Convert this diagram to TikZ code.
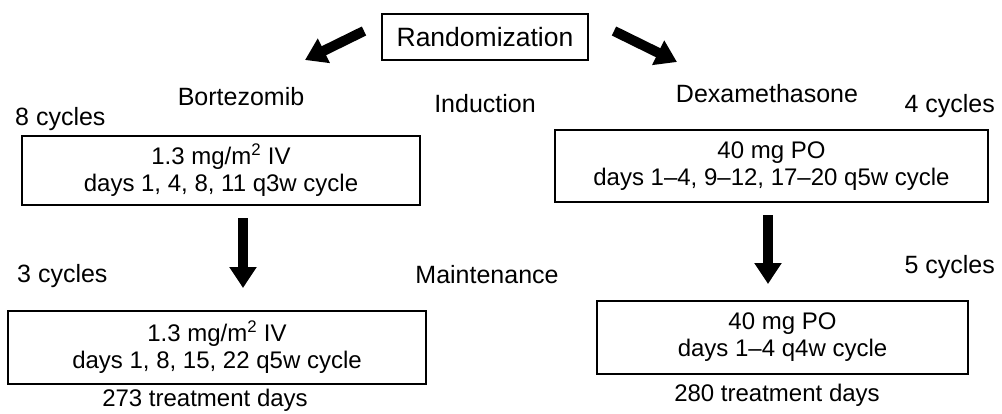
\documentclass[tikz,border=0pt]{standalone}
\usepackage{fontspec}
\setmainfont{Liberation Sans}
\usetikzlibrary{arrows.meta}
\begin{document}
\begin{tikzpicture}[x=1pt,y=-1pt,
  lbl/.style={inner sep=0pt,font=\fontsize{25}{27}\selectfont},
  boxnode/.style={draw,line width=2pt,align=center,inner sep=0pt,font=\fontsize{24}{27}\selectfont},
  bigarrow/.style={line width=10pt,-{Triangle[length=21pt,width=26pt]}}
]
\fill[white] (0,0) rectangle (1002,413);
\useasboundingbox (0,0) rectangle (1002,413);
% top
\node[boxnode,font=\fontsize{26.5}{28}\selectfont,minimum width=206pt,minimum height=46pt] (rand) at (485,37) {Randomization};
\coordinate (la1) at (364,31);
\coordinate (la2) at (305,60);
\coordinate (ra1) at (614,31);
\coordinate (ra2) at (677,62);
\draw[bigarrow] (la1) -- (la2);
\draw[bigarrow] (ra1) -- (ra2);
% labels
\node[lbl,anchor=base] (bort) at (241,105) {Bortezomib};
\node[lbl,anchor=base west] (cyc8) at (15,125) {8 cycles};
\node[lbl,anchor=base] (ind) at (485,112) {Induction};
\node[lbl,anchor=base] (dex) at (767,102) {Dexamethasone};
\node[lbl,anchor=base east] (cyc4) at (995,112) {4 cycles};
% induction boxes
\node[boxnode,minimum width=398pt,minimum height=69pt] (b1) at (221,170) {1.3 mg/m\textsuperscript{2} IV\\days 1, 4, 8, 11 q3w cycle};
\node[boxnode,minimum width=433pt,minimum height=72pt] (b2) at (771.5,166) {40 mg PO\\days 1–4, 9–12, 17–20 q5w cycle};
% down arrows
\coordinate (d1a) at (243,218);
\coordinate (d1b) at (243,288);
\coordinate (d2a) at (768,215);
\coordinate (d2b) at (768,284);
\draw[bigarrow] (d1a) -- (d1b);
\draw[bigarrow] (d2a) -- (d2b);
% maintenance labels
\node[lbl,anchor=base west] (cyc3) at (17,282) {3 cycles};
\node[lbl,anchor=base] (maint) at (487,283) {Maintenance};
\node[lbl,anchor=base east] (cyc5) at (995,273) {5 cycles};
% maintenance boxes
\node[boxnode,minimum width=418pt,minimum height=73pt] (b3) at (217,347) {1.3 mg/m\textsuperscript{2} IV\\days 1, 8, 15, 22 q5w cycle};
\node[boxnode,minimum width=371pt,minimum height=73pt] (b4) at (782.5,337) {40 mg PO\\days 1–4 q4w cycle};
% bottom
\node[lbl,font=\fontsize{24}{27}\selectfont,anchor=base] (td1) at (205,406) {273 treatment days};
\node[lbl,font=\fontsize{24}{27}\selectfont,anchor=base] (td2) at (777,401) {280 treatment days};
\end{tikzpicture}
\end{document}
